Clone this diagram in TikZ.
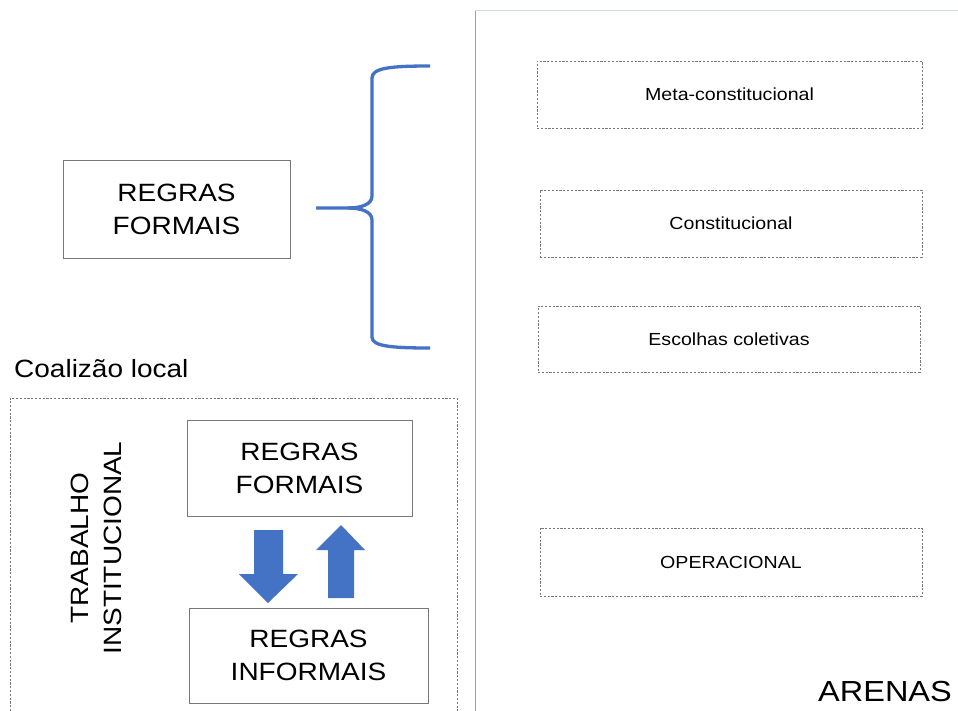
\documentclass[tikz,border=0pt]{standalone}
\usepackage{fontspec}
\setmainfont{Liberation Sans}[FakeStretch=1.12]
\definecolor{bblue}{RGB}{68,114,196}
\definecolor{dgray}{RGB}{120,120,120}
\definecolor{pgray}{RGB}{160,160,160}
\definecolor{lgray}{RGB}{215,220,226}
\begin{document}
\begin{tikzpicture}[x=1pt,y=-1pt,
  solidbox/.style={draw=dgray,line width=0.9pt,inner sep=0pt},
  dashbox/.style={draw=dgray,line width=0.8pt,dash pattern=on 2.2pt off 1.6pt,inner sep=0pt},
  bigtxt/.style={font=\fontsize{25}{33}\selectfont,align=center,text=black},
  smalltxt/.style={font=\fontsize{17.5}{21}\selectfont,text=black},
  blockarrow/.style={fill=bblue,draw=none}]
\useasboundingbox (0,0) rectangle (958,710);
\fill[white] (0,0) rectangle (958,710);

% right panel
\draw[pgray,line width=1pt] (475,715) -- (475,10);
\draw[lgray,line width=1pt] (475,10) -- (960,10);

% arena boxes
\node[dashbox,minimum width=385,minimum height=67] (meta) at (729.5,94.5) {};
\node[smalltxt] (metat) at (meta.center) {Meta-constitucional};
\node[dashbox,minimum width=382,minimum height=67] (const) at (731,223.5) {};
\node[smalltxt] (constt) at (const.center) {Constitucional};
\node[dashbox,minimum width=382,minimum height=66] (esc) at (729,339) {};
\node[smalltxt] (esct) at (esc.center) {Escolhas coletivas};
\node[dashbox,minimum width=382,minimum height=68] (oper) at (731,562) {};
\node[smalltxt] (opert) at (oper.center) {OPERACIONAL};
\node[font=\fontsize{29}{33}\selectfont,text=black,anchor=base] (arenas) at (885,701) {ARENAS};

% top-left box
\node[solidbox,minimum width=227,minimum height=98] (rf1) at (176.5,209) {};
\node[bigtxt] (rf1t) at (rf1.center) {REGRAS\\FORMAIS};

% brace
\coordinate (btop) at (430,66);
\coordinate (bbot) at (430,348);
\coordinate (btip) at (316,208);
\draw[bblue,line width=3.3pt,line cap=butt,line join=round]
  (btop) .. controls (390,66) and (372,68) .. (372,78) -- (372,196)
  .. controls (372,204) and (362,208) .. (348,208) -- (btip);
\draw[bblue,line width=3.3pt,line cap=butt,line join=round]
  (bbot) .. controls (390,348) and (372,346) .. (372,337) -- (372,220)
  .. controls (372,212) and (362,208) .. (348,208);

% coalizao
\node[font=\fontsize{25}{30}\selectfont,text=black,anchor=base west,inner sep=0pt] (coal) at (14,377) {Coalizão local};
\draw[dashbox] (10,715) -- (10,398) -- (457,398) -- (457,715);

\node[bigtxt,rotate=90] (trab) at (96,548) {TRABALHO\\INSTITUCIONAL};

\node[solidbox,minimum width=225,minimum height=96] (rf2) at (299.5,468) {};
\node[bigtxt] (rf2t) at (rf2.center) {REGRAS\\FORMAIS};
\node[solidbox,minimum width=239,minimum height=95] (ri) at (308.5,655.5) {};
\node[bigtxt] (rit) at (ri.center) {REGRAS\\INFORMAIS};

% block arrows
\fill[blockarrow] (254,530) -- (283,530) -- (283,574) -- (298,574) -- (268,603) -- (239,574) -- (254,574) -- cycle;
\fill[blockarrow] (328,598) -- (354,598) -- (354,550) -- (365,550) -- (341,525) -- (316,550) -- (328,550) -- cycle;
\end{tikzpicture}
\end{document}
